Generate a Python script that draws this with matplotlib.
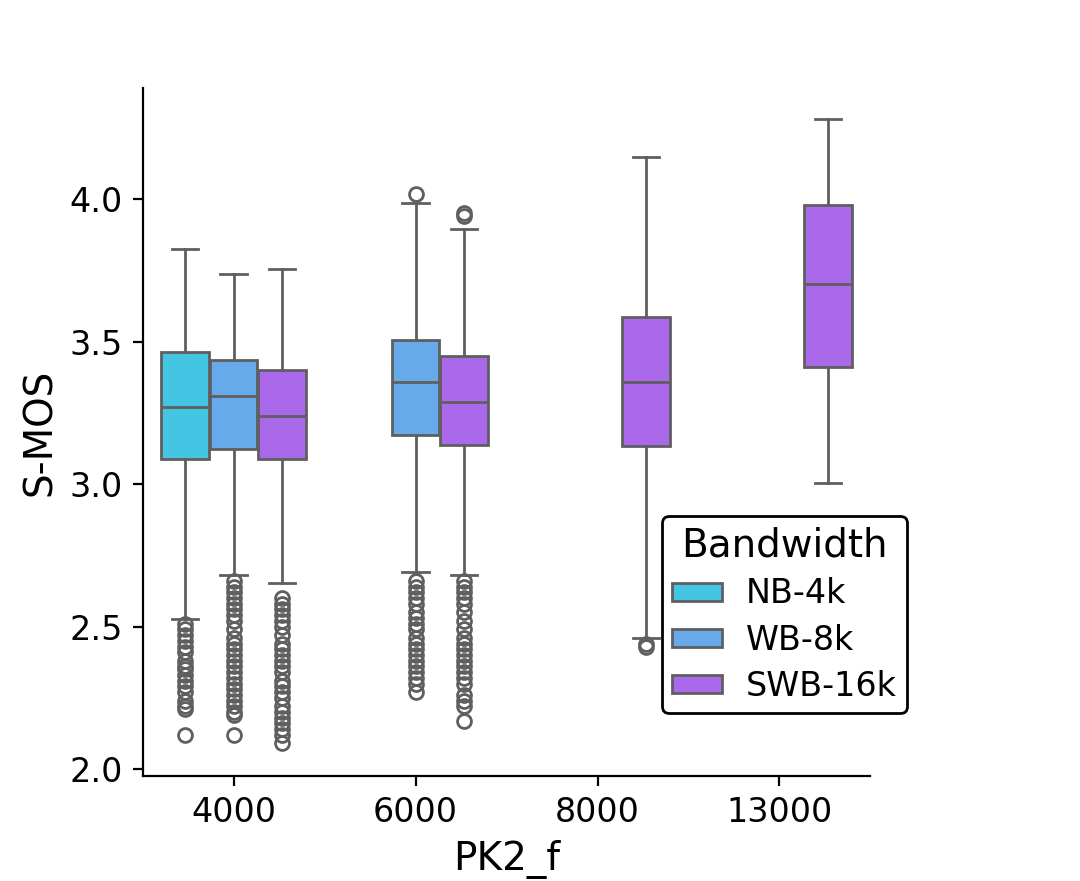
import numpy as np
import matplotlib.pyplot as plt
from matplotlib.patches import Patch

categories = ['4000', '6000', '8000', '13000']
bandwidths = ['NB-4k', 'WB-8k', 'SWB-16k']
colors = ['#44c5e4', '#66aaea', '#aa68ea']

# box stats per (category, bandwidth): whislo, q1, med, q3, whishi
stats = {
    ('4000', 'NB-4k'):    (2.528, 3.087, 3.269, 3.462, 3.825),
    ('4000', 'WB-8k'):    (2.680, 3.122, 3.311, 3.434, 3.738),
    ('4000', 'SWB-16k'):  (2.654, 3.087, 3.238, 3.399, 3.755),
    ('6000', 'WB-8k'):    (2.692, 3.171, 3.360, 3.507, 3.986),
    ('6000', 'SWB-16k'):  (2.682, 3.136, 3.290, 3.448, 3.895),
    ('8000', 'SWB-16k'):  (2.460, 3.133, 3.360, 3.587, 4.147),
    ('13000', 'SWB-16k'): (3.003, 3.410, 3.703, 3.980, 4.280),
}

fliers = {
    ('4000', 'NB-4k'): [2.51, 2.49, 2.47, 2.45, 2.43, 2.41, 2.38, 2.36, 2.35,
                        2.33, 2.31, 2.29, 2.27, 2.24, 2.22, 2.21, 2.12],
    ('4000', 'WB-8k'): [2.66, 2.64, 2.62, 2.60, 2.58, 2.56, 2.54, 2.52, 2.49,
                        2.46, 2.44, 2.42, 2.40, 2.38, 2.36, 2.34, 2.32, 2.30,
                        2.28, 2.26, 2.24, 2.22, 2.20, 2.19, 2.12],
    ('4000', 'SWB-16k'): [2.60, 2.58, 2.56, 2.54, 2.52, 2.50, 2.47, 2.44,
                          2.42, 2.40, 2.38, 2.36, 2.34, 2.31, 2.29, 2.27,
                          2.25, 2.22, 2.20, 2.18, 2.16, 2.14, 2.12, 2.09],
    ('6000', 'WB-8k'): [4.02, 2.66, 2.64, 2.62, 2.60, 2.58, 2.55, 2.53, 2.51,
                        2.49, 2.46, 2.44, 2.42, 2.40, 2.38, 2.36, 2.34, 2.32,
                        2.30, 2.27],
    ('6000', 'SWB-16k'): [3.95, 3.94, 2.66, 2.64, 2.62, 2.60, 2.58, 2.55,
                          2.52, 2.49, 2.46, 2.44, 2.42, 2.40, 2.38, 2.36,
                          2.34, 2.32, 2.30, 2.26, 2.24, 2.22, 2.17],
    ('8000', 'SWB-16k'): [2.44, 2.43],
    ('13000', 'SWB-16k'): [],
}

line_color = '#5f5f5f'
lw = 1.0
box_w = 0.8 / len(bandwidths)

fig, ax = plt.subplots(figsize=(5.4, 4.405), dpi=200)
fig.subplots_adjust(left=0.132, right=0.806, top=0.9, bottom=0.119)

for i, cat in enumerate(categories):
    for j, bw in enumerate(bandwidths):
        if (cat, bw) not in stats:
            continue
        lo, q1, med, q3, hi = stats[(cat, bw)]
        st = dict(whislo=lo, q1=q1, med=med, q3=q3, whishi=hi,
                  fliers=fliers[(cat, bw)])
        pos = i + (j - 1) * box_w
        ax.bxp([st], positions=[pos], widths=box_w * 0.98, patch_artist=True,
               showfliers=True, manage_ticks=False,
               boxprops=dict(facecolor=colors[j], edgecolor=line_color, linewidth=lw),
               medianprops=dict(color=line_color, linewidth=lw),
               whiskerprops=dict(color=line_color, linewidth=lw),
               capprops=dict(color=line_color, linewidth=lw),
               capwidths=box_w * 0.55,
               flierprops=dict(marker='o', markerfacecolor='none',
                               markeredgecolor=line_color, markersize=5,
                               markeredgewidth=1.0))

ax.set_xlim(-0.5, 3.5)
ax.set_ylim(1.975, 4.39)
ax.set_xticks(range(len(categories)))
ax.set_xticklabels(categories)
ax.set_yticks([2.0, 2.5, 3.0, 3.5, 4.0])
ax.tick_params(labelsize=12)
ax.set_xlabel('PK2_f', fontsize=14)
ax.set_ylabel('S-MOS', fontsize=14)
ax.spines['top'].set_visible(False)
ax.spines['right'].set_visible(False)

handles = [Patch(facecolor=c, edgecolor=line_color, linewidth=lw) for c in colors]
leg = ax.legend(handles, bandwidths, title='Bandwidth', fontsize=12,
                title_fontsize=14, loc='lower right', bbox_to_anchor=(1.0495, 0.0916),
                borderaxespad=0, borderpad=0.3, labelspacing=0.4,
                handlelength=1.5, handleheight=0.45, handletextpad=0.7,
                framealpha=1, edgecolor='black')

fig.savefig('out.png', dpi=200)
